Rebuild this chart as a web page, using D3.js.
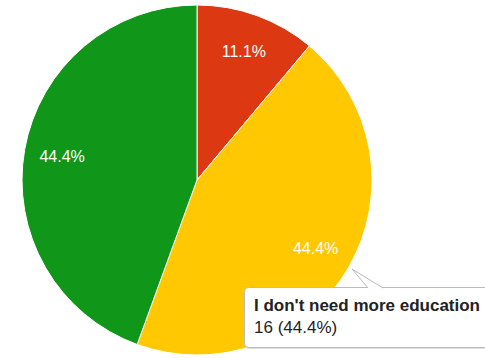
<!DOCTYPE html>
<html>
<head>
<meta charset="utf-8">
<script src="https://cdn.jsdelivr.net/npm/d3@7"></script>
<style>
  html, body { margin: 0; padding: 0; background: #fff; }
  svg { display: block; font-family: Arial, "Liberation Sans", sans-serif; }
</style>
</head>
<body>
<svg id="chart" width="485" height="358"></svg>
<script>
// Response counts, in drawing order (clockwise from 12 o'clock)
const counts = [4, 16, 16];
const sliceColors = ["#dc3912", "#ffc800", "#109618"];

// Slice shown in the hover tooltip
const tooltipIndex = 1;
const tooltipTitle = "I don't need more education";

const svg = d3.select("#chart");
const cx = 197, cy = 180, radius = 175;

const total = d3.sum(counts);
const pct = d3.format(".1%");

const pie = d3.pie().sort(null).value(d => d).startAngle(0).endAngle(2 * Math.PI);
const arcs = pie(counts);

const arc = d3.arc().innerRadius(0).outerRadius(radius);
const labelArc = d3.arc().innerRadius(137).outerRadius(137);

const g = svg.append("g").attr("transform", `translate(${cx},${cy})`);

g.selectAll("path.slice")
  .data(arcs)
  .join("path")
  .attr("class", "slice")
  .attr("d", arc)
  .attr("fill", (d, i) => sliceColors[i])
  .attr("stroke", "#fff")
  .attr("stroke-width", 1);

g.selectAll("text.pct")
  .data(arcs)
  .join("text")
  .attr("class", "pct")
  .attr("transform", d => `translate(${labelArc.centroid(d)})`)
  .attr("text-anchor", "middle")
  .attr("dy", "0.35em")
  .attr("fill", "#fff")
  .attr("font-size", 16)
  .text(d => pct(d.value / total));

// Tooltip callout for the hovered slice
const tip = svg.append("g");
const bx = 244, by = 287, bw = 250, bh = 60;
const tipPoint = [352, 269];
const base = [[368, by], [383, by]];

tip.append("rect")
  .attr("x", bx + 1).attr("y", by + 2)
  .attr("width", bw).attr("height", bh)
  .attr("rx", 4)
  .attr("fill", "#000").attr("opacity", 0.12);

tip.append("rect")
  .attr("x", bx + 0.5).attr("y", by + 0.5)
  .attr("width", bw).attr("height", bh)
  .attr("rx", 4)
  .attr("fill", "#fff")
  .attr("stroke", "#bbb").attr("stroke-width", 1);

tip.append("path")
  .attr("d", d3.line()([[base[0][0], base[0][1] + 1], tipPoint, [base[1][0], base[1][1] + 1]]))
  .attr("fill", "#fff")
  .attr("stroke", "#bbb").attr("stroke-width", 1);

tip.append("text")
  .attr("x", 254).attr("y", 311)
  .attr("font-size", 17).attr("font-weight", "bold")
  .attr("fill", "#222")
  .text(tooltipTitle);

tip.append("text")
  .attr("x", 254).attr("y", 333)
  .attr("font-size", 17)
  .attr("fill", "#222")
  .text(`${counts[tooltipIndex]} (${pct(counts[tooltipIndex] / total)})`);
</script>
</body>
</html>
